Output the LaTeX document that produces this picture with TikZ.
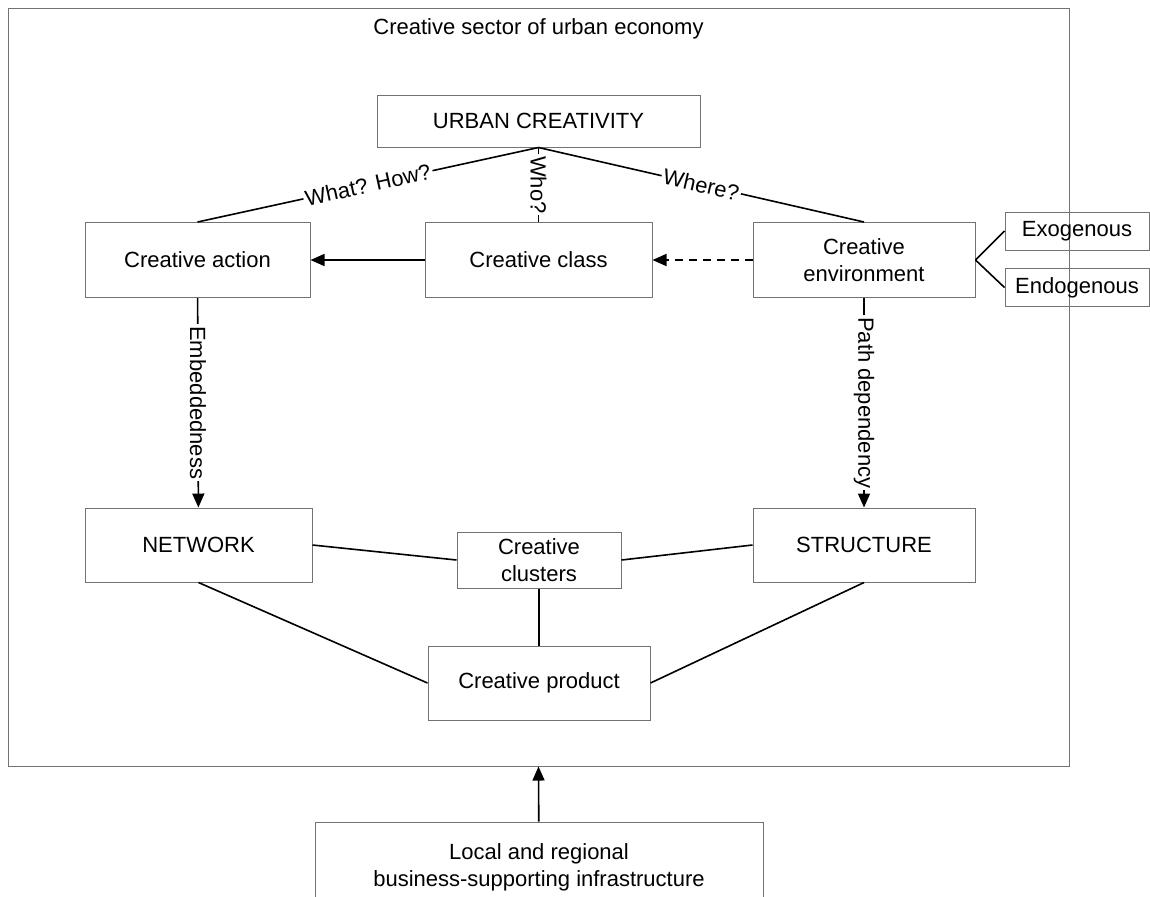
\documentclass[tikz,border=0pt]{standalone}
\usepackage{fontspec}
\setmainfont{Liberation Sans}
\usetikzlibrary{arrows.meta}
\begin{document}
\begin{tikzpicture}[x=0.5pt, y=-0.5pt, every node/.style={font=\fontsize{11}{13.5}\selectfont},
  box/.style={draw=black!55, line width=0.5pt, minimum width=#1, minimum height=37.5pt, align=center, inner sep=0pt},
  box/.default=112pt,
  link/.style={line width=0.8pt},
  tip/.style={link, -{Triangle[length=7pt,width=6pt]}},
  lab/.style={fill=white, inner sep=1pt}]
\useasboundingbox (0,0) rectangle (1150,896);
\clip (0,0) rectangle (1150,896);
\node[box, minimum width=530.5pt, minimum height=379pt] (sector) at (538.5,387) {};
\node (title) at (538.5,29) {Creative sector of urban economy};
\node[box=161.5pt, minimum height=26pt] (urban) at (538.5,121) {URBAN CREATIVITY};
\node[box=112.5pt] (action) at (197.5,260) {Creative action};
\node[box=113.5pt] (class) at (538.5,260) {Creative class};
\node[box=111pt] (env) at (864,260) {Creative\\environment};
\node[box=72pt, minimum height=19pt] (exo) at (1077,231) {Exogenous};
\node[box=72pt, minimum height=19pt] (endo) at (1077,287.5) {Endogenous};
\node[box=113.5pt, minimum height=37pt] (network) at (198.5,545) {NETWORK};
\node[box=111pt, minimum height=37pt] (structure) at (864,545) {STRUCTURE};
\node[box=82pt, minimum height=28pt] (clusters) at (539,560) {Creative\\clusters};
\node[box=111pt, minimum height=37pt] (product) at (539,683) {Creative product};
\node[box=224pt, minimum height=45pt] (local) at (539,867) {Local and regional\\business-supporting infrastructure};
% questions from the top box
\draw[link] (urban.south) -- node[lab, sloped] {What? How?} (action.north);
\draw[link] (urban.south) -- node[lab, rotate=-90] {Who?} (class.north);
\draw[link] (urban.south) -- node[lab, sloped] {Where?} (env.north);
\draw[tip] (class) -- (action);
\draw[tip, dash pattern=on 4pt off 3pt] (env) -- (class);
\draw[link] (env.east) -- (exo.west);
\draw[link] (env.east) -- (endo.west);
\draw[tip] (action) -- node[lab, rotate=-90] {Embeddedness} (network);
\draw[tip] (env) -- node[lab, rotate=-90] {Path dependency} (structure);
% lower part
\draw[link] (network.east) -- (clusters.west);
\draw[link] (structure.west) -- (clusters.east);
\draw[link] (clusters) -- (product);
\draw[link] (network.south) -- (product.west);
\draw[link] (structure.south) -- (product.east);
\draw[tip] (local) -- (sector.south);
\end{tikzpicture}
\end{document}
